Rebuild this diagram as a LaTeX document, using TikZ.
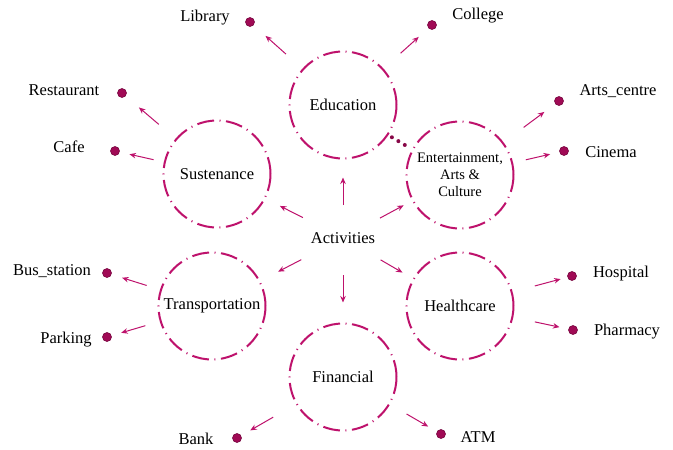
\documentclass[tikz,border=0pt]{standalone}
\usepackage{fontspec}
\setmainfont{Liberation Serif}
\usetikzlibrary{arrows.meta}
\definecolor{actpink}{RGB}{190,18,108}
\definecolor{dotpink}{RGB}{160,10,85}

\tikzset{
    actcircle/.style={draw=actpink,circle,line width=2pt,minimum size=107pt,inner sep=0pt,
        dash pattern=on 17pt off 5.5pt on 1pt off 5.5pt,font=\fontsize{16.5}{19}\selectfont},
    leafdot/.style={circle,fill=dotpink,draw=dotpink!75!black,line width=0.6pt,minimum size=9pt,inner sep=0pt},
    leaftext/.style={font=\fontsize{16.5}{19}\selectfont,inner sep=0pt,anchor=mid,yshift=-3pt},
    actarrow/.style={draw=actpink,line width=1pt,-{Stealth[length=6.5pt,width=5.5pt]}},
    linkdots/.style={draw=dotpink!85!black,line width=4pt,line cap=round,dash pattern=on 0pt off 7.5pt}
}

\begin{document}
\begin{tikzpicture}[x=1pt,y=-1pt]
        \useasboundingbox (0,0) rectangle (673,450);

        \coordinate (c1) at (343,105);
        \coordinate (c2) at (460,175);
        \coordinate (c3) at (217,174);
        \coordinate (c4) at (212,306);
        \coordinate (c5) at (460,306);
        \coordinate (c6) at (343,377);

        \node[font=\fontsize{16.5}{19}\selectfont,inner sep=0pt] (act) at (343,238) {Activities};

        \node[actcircle] (edu) at (c1) {Education};
        \node[actcircle,align=center,font=\fontsize{14.5}{17}\selectfont] (ent) at (c2) {Entertainment,\\Arts \&\\Culture};
        \node[actcircle] (sus) at (c3) {Sustenance};
        \node[actcircle] (tra) at (c4) {Transportation};
        \node[actcircle] (hea) at (c5) {Healthcare};
        \node[actcircle] (fin) at (c6) {Financial};

        \node[leafdot] (lib) at (250,22) {};
        \node[leafdot] (col) at (432,25) {};
        \node[leafdot] (arts) at (559,101) {};
        \node[leafdot] (cin) at (564,151) {};
        \node[leafdot] (rest) at (122,93) {};
        \node[leafdot] (cafe) at (115,151) {};
        \node[leafdot] (bus) at (107,273) {};
        \node[leafdot] (park) at (107,337) {};
        \node[leafdot] (hosp) at (572,276) {};
        \node[leafdot] (phar) at (573,330) {};
        \node[leafdot] (bank) at (237,438) {};
        \node[leafdot] (atm) at (441,434) {};

        \node[leaftext] (libtext) at (205,16) {Library};
        \node[leaftext] (coltext) at (478,14) {College};
        \node[leaftext] (artstext) at (618,90) {Arts\_centre};
        \node[leaftext] (cintext) at (611,152) {Cinema};
        \node[leaftext] (resttext) at (64,90) {Restaurant};
        \node[leaftext] (cafetext) at (69,147) {Cafe};
        \node[leaftext] (bustext) at (52,270) {Bus\_station};
        \node[leaftext] (parktext) at (66,338) {Parking};
        \node[leaftext] (hosptext) at (621,272) {Hospital};
        \node[leaftext] (phartext) at (627,330) {Pharmacy};
        \node[leaftext] (banktext) at (196,439) {Bank};
        \node[leaftext] (atmtext) at (478,437) {ATM};

        \draw[actarrow,shorten <=33pt,shorten >=18pt] (act.center) -- (edu);
        \draw[actarrow,shorten <=45pt,shorten >=16pt] (act.center) -- (sus);
        \draw[actarrow,shorten <=42pt,shorten >=9.5pt] (act.center) -- (ent);
        \draw[actarrow,shorten <=47pt,shorten >=20pt] (act.center) -- (tra);
        \draw[actarrow,shorten <=43.5pt,shorten >=12pt] (act.center) -- (hea);
        \draw[actarrow,shorten <=37pt,shorten >=20pt] (act.center) -- (fin);

        \draw[actarrow,shorten <=22pt,shorten >=16pt] (edu) -- (lib);
        \draw[actarrow,shorten <=23pt,shorten >=13pt] (edu) -- (col);
        \draw[actarrow,shorten <=25pt,shorten >=13.5pt] (ent) -- (arts);
        \draw[actarrow,shorten <=13pt,shorten >=9.5pt] (ent) -- (cin);
        \draw[actarrow,shorten <=22pt,shorten >=17.5pt] (sus) -- (rest);
        \draw[actarrow,shorten <=10.5pt,shorten >=10pt] (sus) -- (cafe);
        \draw[actarrow,shorten <=14pt,shorten >=11pt] (tra) -- (bus);
        \draw[actarrow,shorten <=15pt,shorten >=10pt] (tra) -- (park);
        \draw[actarrow,shorten <=23pt,shorten >=7pt] (hea) -- (hosp);
        \draw[actarrow,shorten <=22pt,shorten >=9pt] (hea) -- (phar);
        \draw[actarrow,shorten <=26pt,shorten >=10.5pt] (fin) -- (bank);
        \draw[actarrow,shorten <=19pt,shorten >=10pt] (fin) -- (atm);

        \draw[linkdots,shorten <=2pt,shorten >=5pt] ([yshift=-4pt]edu.-30) -- ([yshift=-2pt]ent.150);
    \end{tikzpicture}
\end{document}
